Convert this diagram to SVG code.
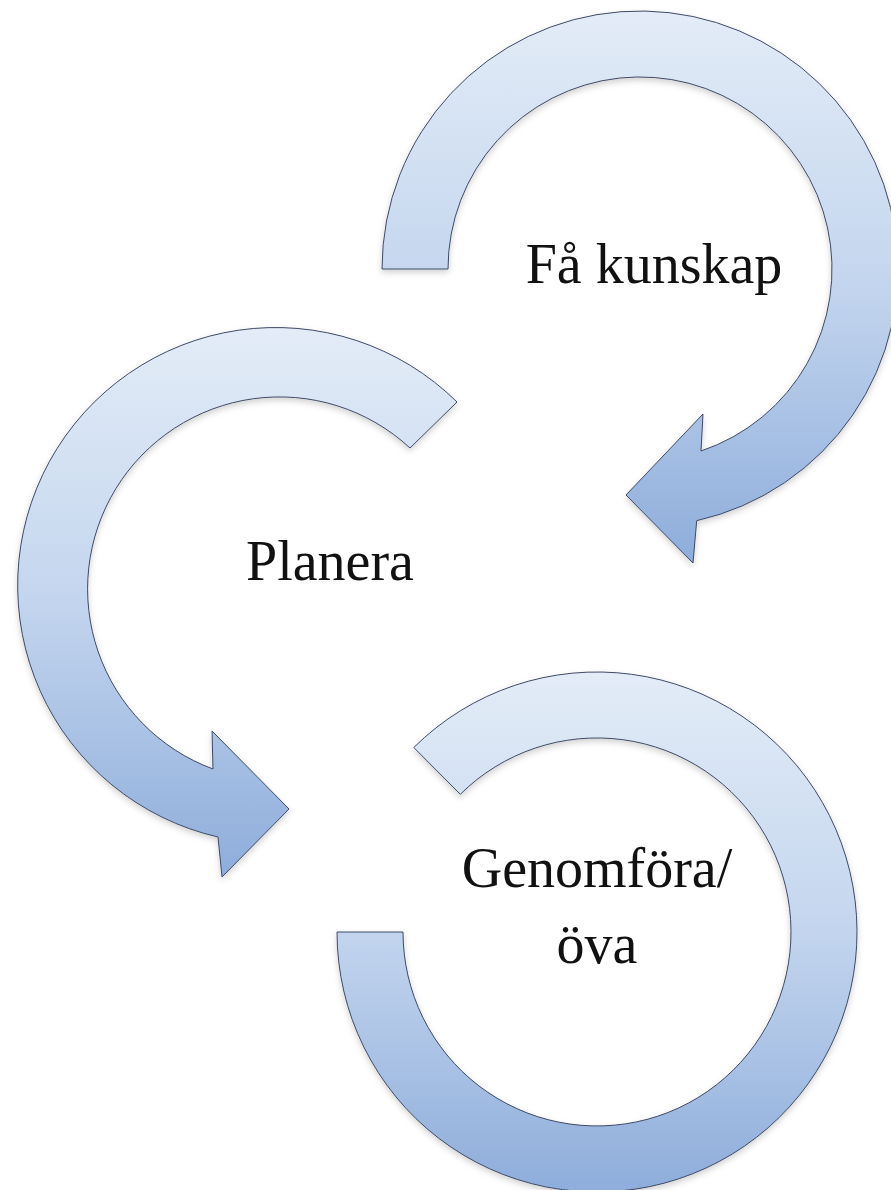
<svg xmlns="http://www.w3.org/2000/svg" width="891" height="1190" viewBox="0 0 891 1190">
  <defs>
    <linearGradient id="blueGrad" x1="0" y1="0" x2="0" y2="1">
      <stop offset="0" stop-color="#e3ecf7"/>
      <stop offset="0.5" stop-color="#c3d5ee"/>
      <stop offset="1" stop-color="#8eaddb"/>
    </linearGradient>
    <filter id="shadow" x="-10%" y="-10%" width="120%" height="120%">
      <feDropShadow dx="0" dy="3" stdDeviation="3" flood-color="#000000" flood-opacity="0.18"/>
    </filter>
  </defs>
  <style>
    .arrow { fill: url(#blueGrad); stroke: #3e4a66; stroke-width: 1; filter: url(#shadow); }
    .label { font-family: "Liberation Serif", "DejaVu Serif", serif; font-size: 56px; fill: #111111; text-anchor: middle; }
  </style>
  <rect width="891" height="1190" fill="#ffffff"/>
  <g id="connectors">
    <path id="arrow-fa-kunskap" class="arrow" d="M 382 269 A 258 258 0 1 1 696.7 520.7 L 693 563 L 626 495 L 703 414 L 701 451 A 192 192 0 1 0 448 269 Z"/>
    <path id="arrow-planera" class="arrow" d="M 457 402 A 258 258 0 1 0 218 837 L 222 877 L 289 809 L 212 731 L 213 769 A 192 192 0 1 1 410 448 Z"/>
    <path id="arrow-genomfora" class="arrow" d="M 413.8 747.5 A 260 260 0 1 1 337 932 L 403 932 A 194 194 0 1 0 460.3 794.3 Z"/>
  </g>
  <g id="node-fa-kunskap">
    <text class="label" x="654" y="283">Få kunskap</text>
  </g>
  <g id="node-planera">
    <text class="label" x="330" y="580">Planera</text>
  </g>
  <g id="node-genomfora">
    <text class="label" x="597" y="887">Genomföra/</text>
    <text class="label" x="597" y="963">öva</text>
  </g>
</svg>
